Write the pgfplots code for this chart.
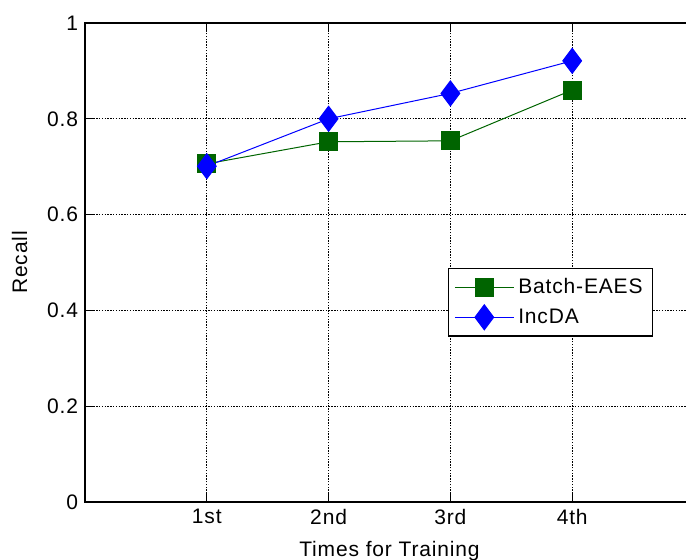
\documentclass[border=0pt]{standalone}
\usepackage{pgfplots}
\pgfplotsset{compat=1.18}
\usepackage{fontspec}
\setmainfont{Liberation Sans}[LetterSpace=4]
\definecolor{mgreen}{RGB}{0,100,0}
\begin{document}
\begin{tikzpicture}
\begin{axis}[
  at={(0,0)}, anchor=origin,
  scale only axis, width=304.5pt, height=239.5pt,
  xmin=0, xmax=5, ymin=0, ymax=1,
  xtick={1,2,3,4}, xticklabels={1st,2nd,3rd,4th},
  ytick={0,0.2,0.4,0.6,0.8,1},
  yticklabels={0,0.2,0.4,0.6,0.8,1},
  tick align=inside, major tick length=4pt,
  grid=major, grid style={black, dash pattern=on 0.7pt off 0.7pt, line width=0.6pt},
  axis line style={black, line width=0.7pt},
  tick style={black, line width=0.5pt},
  tick label style={font=\fontsize{10.5}{12}\selectfont},
  label style={font=\fontsize{10.5}{12}\selectfont},
  xlabel={Times for Training}, ylabel={Recall},
  xlabel style={yshift=-1.5pt},
  ylabel style={yshift=3pt},
  legend style={at={(0.933,0.489)}, anchor=north east, draw=black, line width=0.6pt,
    font=\fontsize{10.5}{12}\selectfont, row sep=2pt, inner xsep=3pt, inner ysep=3pt},
  legend cell align=left,
  legend image code/.code={%
    \draw[mark repeat=2, mark phase=2] plot coordinates {(0pt,0pt) (14.75pt,0pt) (29.5pt,0pt)};},
]
\addplot[mgreen, line width=0.5pt, mark=square*, mark size=4.5pt, mark options={solid, fill=mgreen, draw=mgreen}]
  coordinates {(1,0.706) (2,0.752) (3,0.754) (4,0.860)};
\addlegendentry{Batch-EAES}
\addplot[blue, line width=0.5pt, mark=diamond*, mark size=6.25pt, mark options={solid, fill=blue, draw=blue}]
  coordinates {(1,0.701) (2,0.800) (3,0.853) (4,0.921)};
\addlegendentry{IncDA}
\end{axis}
\pgfresetboundingbox
\path[use as bounding box] (-42.5pt,-29pt) rectangle (300.5pt,251pt);
\end{tikzpicture}
\end{document}
